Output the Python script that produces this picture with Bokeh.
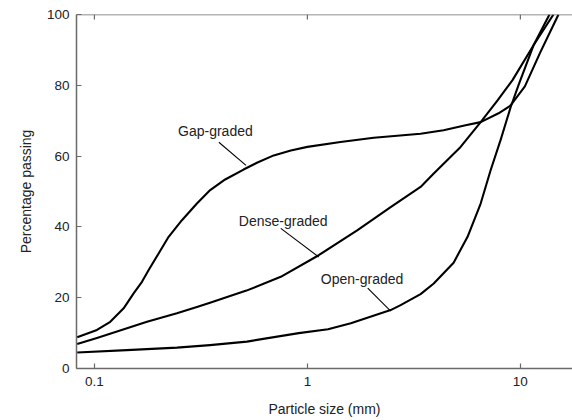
from bokeh.plotting import figure
from bokeh.models import FixedTicker, CustomJSTickFormatter, Range1d, Label, Span
from bokeh.embed import file_html
from bokeh.resources import INLINE

# Particle size (mm) and percentage passing
gap_size = [0.083, 0.1028, 0.1187, 0.1372, 0.1528, 0.1672, 0.1798, 0.2002, 0.2231,
            0.2576, 0.3029, 0.3497, 0.4111, 0.5016, 0.583, 0.695, 0.836, 1.0, 1.43,
            2.05, 3.40, 4.36, 5.53, 6.51, 7.90, 9.0, 10.5, 12.4, 15.1]
gap_pass = [8.8, 10.9, 13.2, 17.0, 21.2, 24.5, 27.8, 32.5, 37.2,
            41.9, 46.6, 50.4, 53.4, 56.2, 58.2, 60.2, 61.6, 62.6, 64.0,
            65.2, 66.3, 67.3, 68.7, 69.6, 72.1, 74.3, 79.7, 89.3, 100.0]

dense_size = [0.083, 0.1028, 0.1766, 0.244, 0.3029, 0.349, 0.5174, 0.750,
              1.13, 1.72, 2.46, 3.40, 3.92, 5.24, 6.51, 7.83, 9.17, 11.53, 14.3]
dense_pass = [6.9, 8.6, 13.2, 15.6, 17.4, 18.6, 22.0, 25.9,
              32.0, 39.1, 45.6, 51.3, 55.1, 62.6, 69.6, 75.8, 81.4, 91.3, 100.0]

open_size = [0.083, 0.142, 0.244, 0.349, 0.520, 0.911, 1.25, 1.60, 2.46, 2.74,
             3.40, 3.92, 4.86, 5.65, 6.51, 7.25, 8.10, 9.0, 9.82, 11.53, 13.7]
open_pass = [4.5, 5.2, 5.9, 6.6, 7.6, 10.0, 11.1, 12.8, 16.5, 17.9,
             21.0, 24.0, 29.9, 37.2, 46.6, 56.0, 64.8, 73.8, 80.2, 91.3, 100.0]

x_ticks = [0.1, 1, 10]
y_ticks = [0, 20, 40, 60, 80, 100]

series_names = ["Gap-graded", "Dense-graded", "Open-graded"]
# annotation anchors (text left-middle) and leader lines, in data units
label_x = [0.247, 0.4766, 1.156]
label_y = [67.0, 41.7, 25.2]
leader_x0 = [0.384, 0.750, 1.920]
leader_y0 = [63.9, 39.6, 22.7]
leader_x1 = [0.515, 1.131, 2.461]
leader_y1 = [57.4, 31.5, 16.2]

FONT = "Liberation Sans"
AXIS_COLOR = "#6a6a6a"
Y_MAX = 100
TOP_TICK = 1.4  # inward tick length at the top edge, in y units

p = figure(width=572, height=420, x_axis_type="log",
           x_range=Range1d(0.0824, 17.57), y_range=Range1d(0, Y_MAX),
           output_backend="svg", toolbar_location=None,
           min_border_left=76, min_border_right=0, min_border_top=14,
           min_border_bottom=52)
p.outline_line_color = None
p.grid.visible = False
p.background_fill_color = "white"
p.border_fill_color = "white"

xa = p.xaxis[0]
xa.ticker = FixedTicker(ticks=x_ticks)
xa.formatter = CustomJSTickFormatter(code="return tick.toString();")
xa.axis_label = "Particle size (mm)"

ya = p.yaxis[0]
ya.ticker = FixedTicker(ticks=y_ticks)
ya.axis_label = "Percentage passing"

for ax in [xa, ya]:
    ax.axis_line_color = AXIS_COLOR
    ax.axis_line_width = 1.5
    ax.major_tick_line_color = AXIS_COLOR
    ax.major_tick_line_width = 1.2
    ax.major_tick_in = 5
    ax.major_tick_out = 0
    ax.minor_tick_line_color = None
    ax.major_label_text_font = FONT
    ax.major_label_text_color = "#222222"
    ax.major_label_text_font_size = "13.5px"
    ax.axis_label_text_font = FONT
    ax.axis_label_text_font_style = "normal"
    ax.axis_label_text_color = "#222222"
    ax.axis_label_text_font_size = "14px"

xa.major_label_standoff = 8
ya.major_label_standoff = 7
xa.axis_label_standoff = 12
ya.axis_label_standoff = 10

# top frame edge with inward ticks
p.add_layout(Span(location=Y_MAX, dimension="width", line_color=AXIS_COLOR,
                  line_width=1.5))
p.segment(x0=x_ticks, y0=[Y_MAX] * len(x_ticks), x1=x_ticks,
          y1=[Y_MAX - TOP_TICK] * len(x_ticks), line_color=AXIS_COLOR,
          line_width=1.2)

for xs, ys in [(gap_size, gap_pass), (dense_size, dense_pass), (open_size, open_pass)]:
    p.line(xs, ys, line_color="black", line_width=2.1, line_join="round")

p.segment(x0=leader_x0, y0=leader_y0, x1=leader_x1, y1=leader_y1,
          line_color="black", line_width=1.1)

for name, lx, ly in zip(series_names, label_x, label_y):
    p.add_layout(Label(x=lx, y=ly, text=name, text_font=FONT,
                       text_font_size="14px", text_color="#222222",
                       text_align="left", text_baseline="middle"))

open("out.html", "w").write(file_html(p, INLINE))
